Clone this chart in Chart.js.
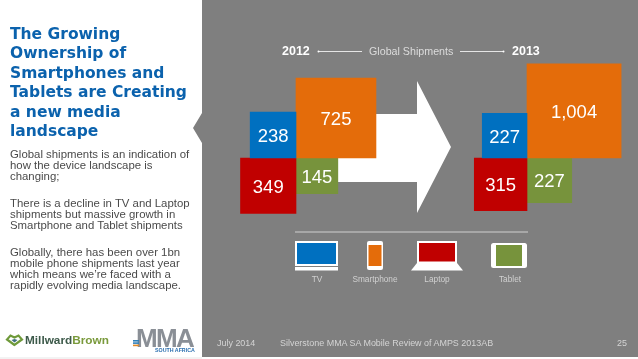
<!DOCTYPE html>
<html>
<head>
<meta charset="utf-8">
<script src="https://cdn.jsdelivr.net/npm/chart.js@4"></script>
<style>
  html, body { margin: 0; padding: 0; background: #fff; }
  #slide { position: relative; width: 638px; height: 359px; overflow: hidden; font-family: "Liberation Sans", sans-serif; }
  #panel { position: absolute; left: 0; top: 0; }
  #chart-wrap { position: absolute; left: 0; top: 0; width: 638px; height: 359px; }
  .t { position: absolute; white-space: nowrap; }
  #title { left: 10px; top: 25px; font: bold 15.5px/19.4px "DejaVu Sans", sans-serif; color: #0b62ad; }
  .body { left: 10px; font-size: 11.4px; line-height: 10.9px; color: #4a4a4a; }
  .year { font-size: 12.5px; font-weight: bold; color: #fff; top: 44px; }
  .icon-label { font-size: 8.3px; color: #d0d0d0; top: 274px; transform: translateX(-50%); }
  .foot { font-size: 8.95px; color: #d4d4d4; top: 338px; }
</style>
</head>
<body>
<div id="slide">
  <svg id="panel" width="638" height="359">
    <path d="M202 0H638V357H202V143L193 128L202 113Z" fill="#7f7f7f"/>
    <path d="M0 358H202" stroke="#e6e6e6" stroke-width="1"/>
    <!-- big arrow behind the squares -->
    <path d="M300 114H417V81L451 147L417 213V182H300Z" fill="#fff"/>
    <!-- header rules -->
    <path d="M318 51.5H362M460 51.5H504" stroke="#fff" stroke-width="0.8"/>
    <circle cx="318.5" cy="51.5" r="1" fill="#fff"/><circle cx="503.5" cy="51.5" r="1" fill="#fff"/>
    <path d="M295 232H528" stroke="#d0d0d0" stroke-width="1"/>
    <!-- device icons -->
    <rect x="295" y="241" width="43" height="25" fill="#fff"/>
    <rect x="297" y="243" width="39" height="21" fill="#0070c0"/>
    <rect x="295" y="267" width="43" height="3.5" fill="#fff"/>
    <rect x="367" y="241" width="16" height="29" rx="2" fill="#fff"/>
    <rect x="368.5" y="245" width="13" height="21" fill="#e46c0a"/>
    <rect x="417" y="241" width="40" height="23" fill="#fff"/>
    <rect x="419" y="243" width="36" height="18.5" fill="#c00000"/>
    <path d="M417 263H457L463 270.5H411Z" fill="#fff"/>
    <rect x="491" y="243" width="36" height="25" rx="2.5" fill="#fff"/>
    <rect x="496" y="245" width="26" height="21" fill="#77933c"/>
    <!-- Millward Brown heart mark -->
    <path d="M14.5 345L7 339.5L10.5 335.5L14.5 337.5L18.5 335.5L22 339.5Z" fill="none" stroke="#6f9a3a" stroke-width="2.2"/>
    <path d="M14.5 342.5L11.5 340L14.5 339L17.5 340Z" fill="#3f6f7f"/>
  </svg>

  <div id="chart-wrap"><canvas id="squares" width="638" height="359"></canvas></div>

  <div class="t" id="title">The Growing<br>Ownership of<br>Smartphones and<br>Tablets are Creating<br>a new media<br>landscape</div>
  <div class="t body" style="top:149px">Global shipments is an indication of<br>how the device landscape is<br>changing;</div>
  <div class="t body" style="top:198px">There is a decline in TV and Laptop<br>shipments but massive growth in<br>Smartphone and Tablet shipments</div>
  <div class="t body" style="top:247px">Globally, there has been over 1bn<br>mobile phone shipments last year<br>which means we’re faced with a<br>rapidly evolving media landscape.</div>

  <div class="t year" style="left:282px">2012</div>
  <div class="t year" style="left:512px">2013</div>
  <div class="t" style="left:369px;top:45px;font-size:10.7px;color:#dcdcdc">Global Shipments</div>

  <div class="t icon-label" style="left:317px">TV</div>
  <div class="t icon-label" style="left:375px">Smartphone</div>
  <div class="t icon-label" style="left:437px">Laptop</div>
  <div class="t icon-label" style="left:510px">Tablet</div>

  <div class="t" style="left:25px;top:333px;font-size:11.8px;font-weight:bold;color:#3d5a4a">Millward<span style="color:#7a9a3c">Brown</span></div>
  <div class="t" style="left:136px;top:323px;font-size:26px;font-weight:bold;color:#8a8f96;letter-spacing:-1.7px">MMA</div>
  <div class="t" style="left:155px;top:347px;font-size:5.3px;font-weight:bold;color:#2a6fb0">SOUTH AFRICA</div>
  <svg style="position:absolute;left:133px;top:340px" width="6" height="7">
    <rect y="0" width="6" height="1.6" fill="#2f7fb8"/>
    <rect y="2.3" width="6" height="1.6" fill="#2f7fb8"/>
    <rect y="4.6" width="6" height="1.6" fill="#e08a2a"/>
  </svg>

  <div class="t foot" style="left:217px">July 2014</div>
  <div class="t foot" style="left:280px">Silverstone MMA SA Mobile Review of AMPS 2013AB</div>
  <div class="t foot" style="left:617px">25</div>
</div>

<script>
// shipments in millions, same order in both years
const categories = ['TV', 'Smartphone', 'Laptop', 'Tablet'];
const years = ['2012', '2013'];
const shipments2012 = [238, 725, 349, 145];
const shipments2013 = [227, 1004, 315, 227];
const categoryColors = ['#0070c0', '#e46c0a', '#c00000', '#77933c'];

// each year is four squares around one corner, side follows sqrt(value)
const pxPerSqrtUnit = 2.97;
const yearPivots = [[296, 158], [527, 158]];
const quadrants = [[-1, -1], [1, -1], [-1, 1], [1, 1]];

function squareDataset(value, catIndex, yearIndex) {
  const side = pxPerSqrtUnit * Math.sqrt(value);
  // the small 2012 tablet box is wider than it is tall on the slide
  const width = (yearIndex === 0 && catIndex === 3) ? side * 1.17 : side;
  const [px, py] = yearPivots[yearIndex];
  const [qx, qy] = quadrants[catIndex];
  return {
    label: categories[catIndex] + ' ' + years[yearIndex],
    data: [{ x: px + qx * width / 2, y: [py, py + qy * side] }],
    value: value,
    backgroundColor: categoryColors[catIndex],
    barThickness: width,
    grouped: false,
    borderWidth: 0,
  };
}

const datasets = [];
shipments2012.forEach((v, i) => datasets.push(squareDataset(v, i, 0)));
shipments2013.forEach((v, i) => datasets.push(squareDataset(v, i, 1)));

// writes the value in the middle of each square
const valueLabels = {
  id: 'valueLabels',
  afterDatasetsDraw(chart) {
    const ctx = chart.ctx;
    ctx.save();
    ctx.fillStyle = '#fff';
    ctx.font = '18.5px "Liberation Sans"';
    ctx.textAlign = 'center';
    ctx.textBaseline = 'middle';
    chart.data.datasets.forEach((ds, i) => {
      const bar = chart.getDatasetMeta(i).data[0];
      const mid = (bar.y + bar.base) / 2;
      ctx.fillText(ds.value.toLocaleString('en-US'), bar.x, mid + 2);
    });
    ctx.restore();
  }
};

new Chart(document.getElementById('squares'), {
  type: 'bar',
  data: { datasets: datasets },
  plugins: [valueLabels],
  options: {
    responsive: false,
    animation: false,
    layout: { padding: 0 },
    plugins: { legend: { display: false }, title: { display: false }, tooltip: { enabled: false } },
    scales: {
      x: { type: 'linear', min: 0, max: 638, display: false, offset: false },
      y: { type: 'linear', min: 0, max: 359, reverse: true, display: false },
    },
  },
});
</script>
</body>
</html>
